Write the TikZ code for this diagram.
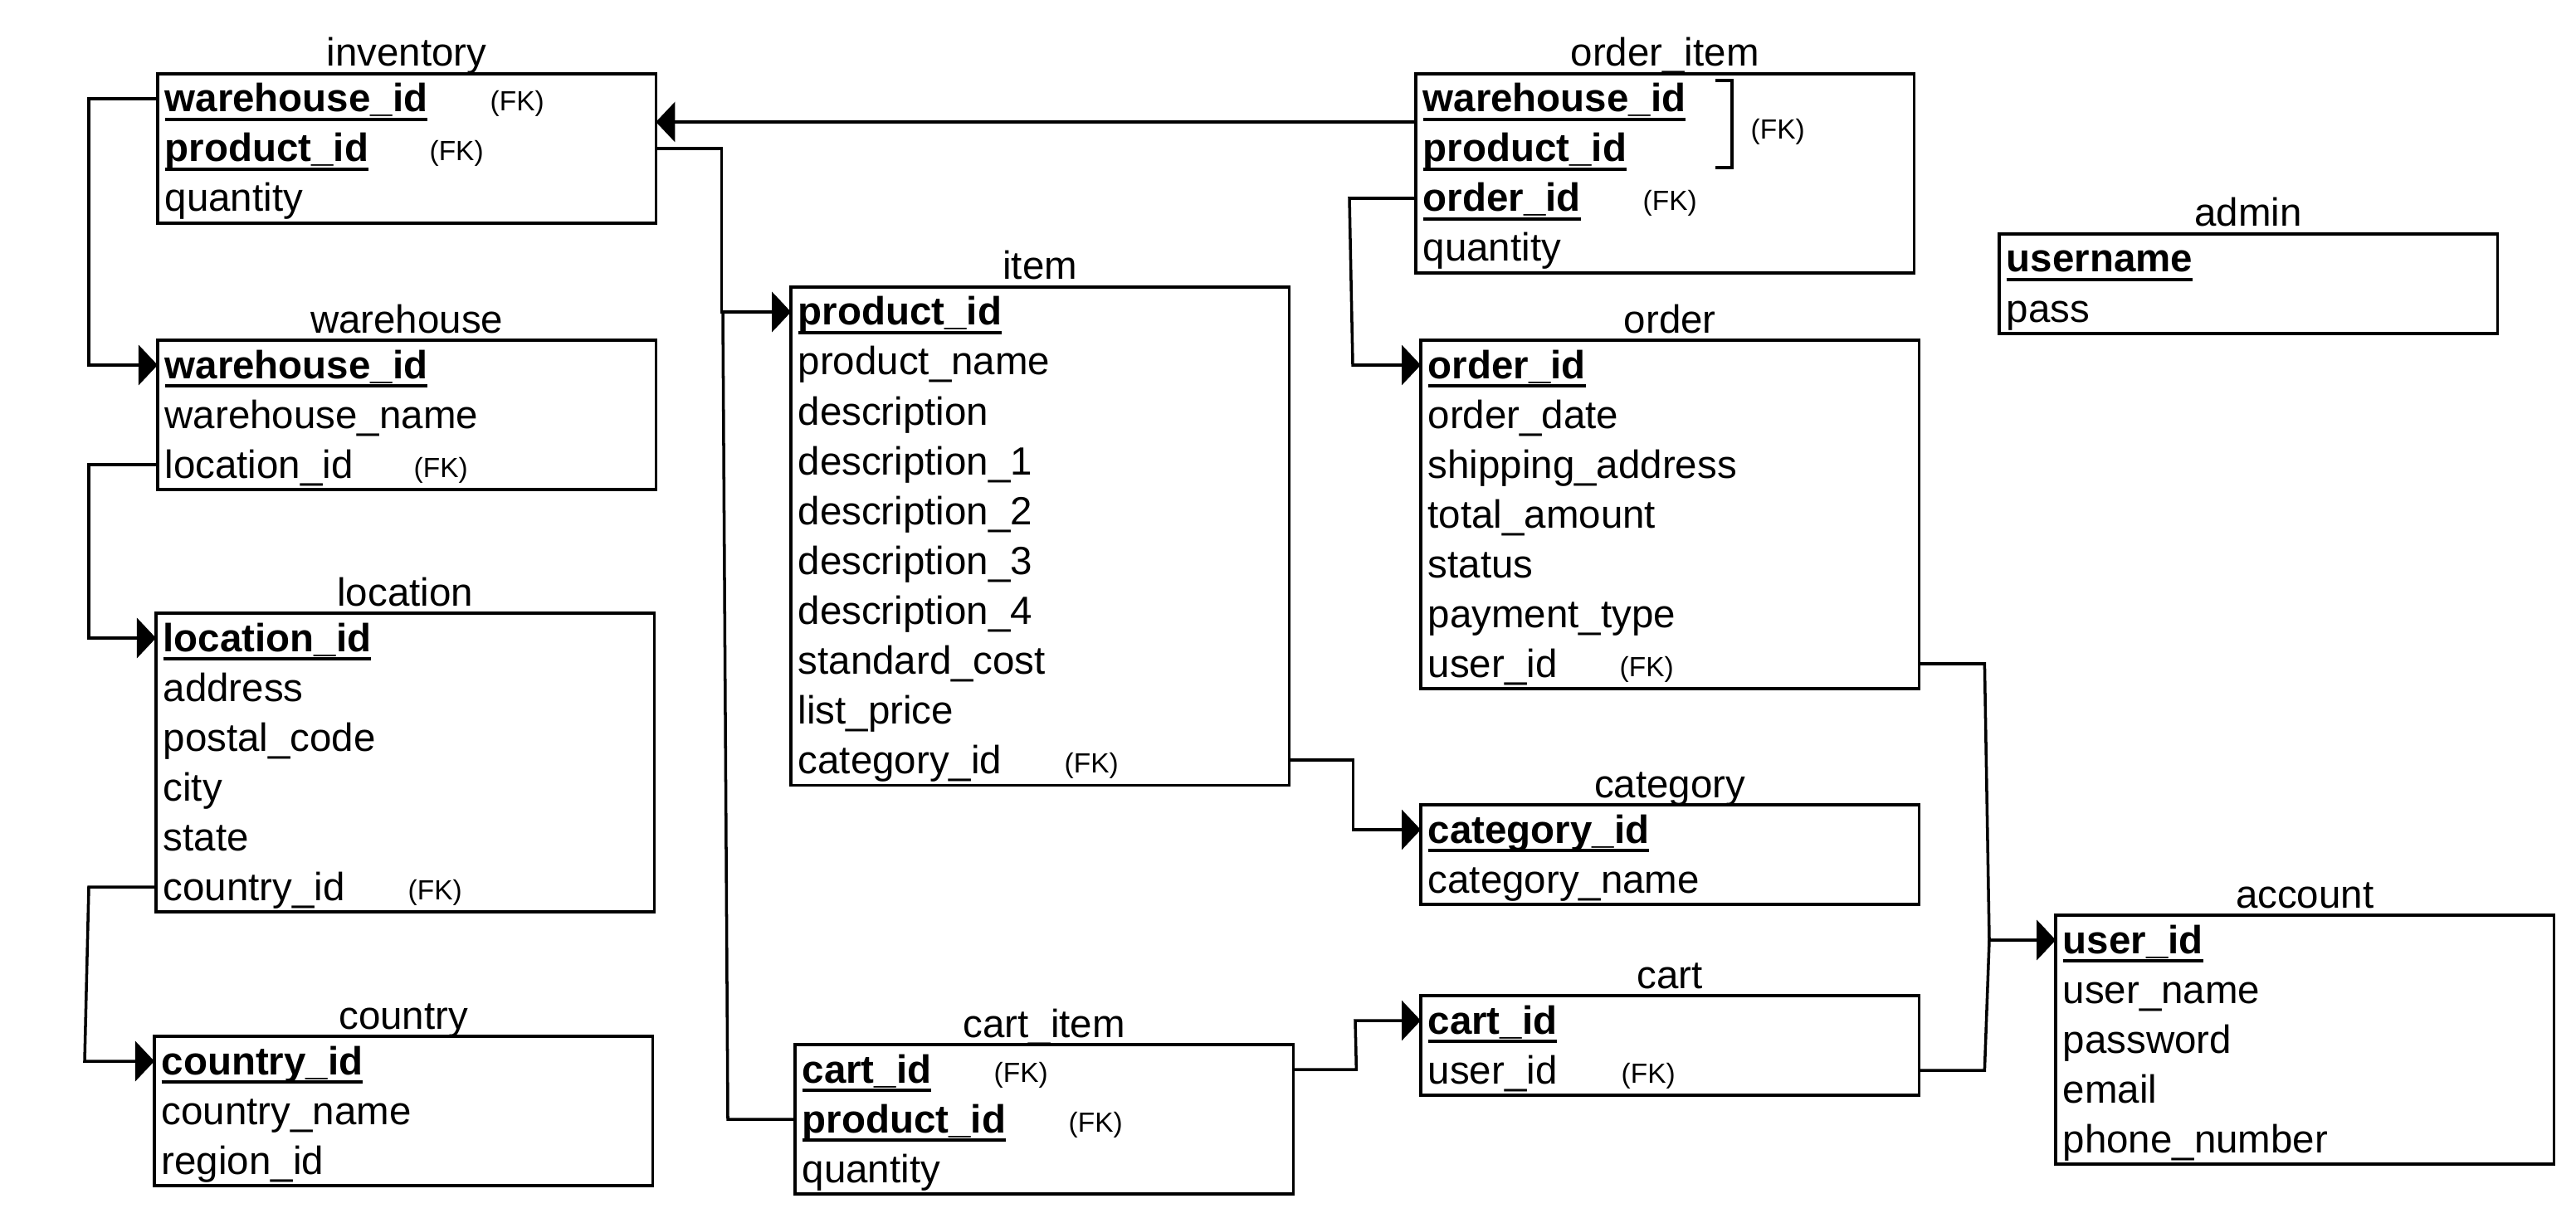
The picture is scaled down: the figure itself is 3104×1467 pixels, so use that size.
\documentclass[tikz,border=0pt]{standalone}
\usepackage{fontspec}
\setmainfont{Liberation Sans}
\usetikzlibrary{arrows.meta,calc}
\newsavebox\ulbox
\newcommand\pkul[1]{\sbox\ulbox{\bfseries #1}\rlap{\rule[-3pt]{\wd\ulbox}{0.9pt}}\usebox\ulbox}
\begin{document}
\begin{tikzpicture}[x=0.01cm,y=-0.01cm,
  tblbox/.style={draw, line width=1pt, minimum width=6cm, inner sep=0pt, outer sep=0pt},
  tbltitle/.style={anchor=base, inner sep=0pt, font=\fontsize{13.5}{16}\selectfont},
  fldtext/.style={anchor=base west, inner sep=0pt, font=\fontsize{13.5}{16}\selectfont},
  fklabel/.style={anchor=base west, inner sep=0pt, font=\fontsize{9.5}{11}\selectfont},
  conn/.style={line width=1pt},
  arr/.style={-{Triangle[length=0.23cm,width=0.48cm]}}]
\newcommand\tbl[5]{%
  \node[tblbox, minimum height=#4*0.6cm, anchor=north west] (#1) at (#2,#3) {};
  \node[tbltitle] (#1-title) at ($(#1.north)+(0,-9)$) {#5};}
\newcommand\fld[3]{%
  \node[fldtext] (#1-#2) at ($(#1.north west)+(8,{60*#2-14})$) {#3};
  \coordinate (#1-#2-l) at ($(#1.north west)+(0,{60*#2-30})$);
  \coordinate (#1-#2-r) at ($(#1.north east)+(0,{60*#2-30})$);}
\newcommand\fkat[3]{%
  \node[fklabel] (#1-#2-fk) at ($(#1.north west)+(#3,{60*#2-15})$) {(FK)};}
\fill[white] (0,0) rectangle (3104,1467);
\useasboundingbox (0,0) rectangle (3104,1467);

% inventory
\tbl{inv}{190}{89}{3}{inventory}
\fld{inv}{1}{\pkul{warehouse\_id}}
\fld{inv}{2}{\pkul{product\_id}}
\fld{inv}{3}{quantity}
\fkat{inv}{1}{400}
\fkat{inv}{2}{327}

% warehouse
\tbl{wh}{190}{410}{3}{warehouse}
\fld{wh}{1}{\pkul{warehouse\_id}}
\fld{wh}{2}{warehouse\_name}
\fld{wh}{3}{location\_id}
\fkat{wh}{3}{308}

% location
\tbl{loc}{188}{739}{6}{location}
\fld{loc}{1}{\pkul{location\_id}}
\fld{loc}{2}{address}
\fld{loc}{3}{postal\_code}
\fld{loc}{4}{city}
\fld{loc}{5}{state}
\fld{loc}{6}{country\_id}
\fkat{loc}{6}{303}

% country
\tbl{cty}{186}{1249}{3}{country}
\fld{cty}{1}{\pkul{country\_id}}
\fld{cty}{2}{country\_name}
\fld{cty}{3}{region\_id}

% item
\tbl{item}{953}{346}{10}{item}
\fld{item}{1}{\pkul{product\_id}}
\fld{item}{2}{product\_name}
\fld{item}{3}{description}
\fld{item}{4}{description\_1}
\fld{item}{5}{description\_2}
\fld{item}{6}{description\_3}
\fld{item}{7}{description\_4}
\fld{item}{8}{standard\_cost}
\fld{item}{9}{list\_price}
\fld{item}{10}{category\_id}
\fkat{item}{10}{329}

% cart_item
\tbl{ci}{958}{1259}{3}{cart\_item}
\fld{ci}{1}{\pkul{cart\_id}}
\fld{ci}{2}{\pkul{product\_id}}
\fld{ci}{3}{quantity}
\fkat{ci}{1}{239}
\fkat{ci}{2}{329}

% order_item
\tbl{oi}{1706}{89}{4}{order\_item}
\fld{oi}{1}{\pkul{warehouse\_id}}
\fld{oi}{2}{\pkul{product\_id}}
\fld{oi}{3}{\pkul{order\_id}}
\fld{oi}{4}{quantity}
\fkat{oi}{3}{273}
\draw[conn] ($(oi.north west)+(361,8)$) -- ++(20,0) -- ++(0,105) -- ++(-20,0);
\node[fklabel] (oi-cfk) at ($(oi.north west)+(403,79)$) {(FK)};

% admin
\tbl{adm}{2409}{282}{2}{admin}
\fld{adm}{1}{\pkul{username}}
\fld{adm}{2}{pass}

% order
\tbl{ord}{1712}{410}{7}{order}
\fld{ord}{1}{\pkul{order\_id}}
\fld{ord}{2}{order\_date}
\fld{ord}{3}{shipping\_address}
\fld{ord}{4}{total\_amount}
\fld{ord}{5}{status}
\fld{ord}{6}{payment\_type}
\fld{ord}{7}{user\_id}
\fkat{ord}{7}{239}

% category
\tbl{cat}{1712}{970}{2}{category}
\fld{cat}{1}{\pkul{category\_id}}
\fld{cat}{2}{category\_name}

% cart
\tbl{cart}{1712}{1200}{2}{cart}
\fld{cart}{1}{\pkul{cart\_id}}
\fld{cart}{2}{user\_id}
\fkat{cart}{2}{241}

% account
\tbl{acc}{2477}{1103}{5}{account}
\fld{acc}{1}{\pkul{user\_id}}
\fld{acc}{2}{user\_name}
\fld{acc}{3}{password}
\fld{acc}{4}{email}
\fld{acc}{5}{phone\_number}

% connectors
\coordinate (oi-fkpt) at ($(oi.north west)+(0,58)$);
\coordinate (inv-fkpt) at ($(inv.north east)+(0,58)$);
\draw[conn,arr] (oi-fkpt) -- (inv-fkpt);
\draw[conn,arr] (inv-1-l) -- ++(-83,0) |- (wh-1-l);
\draw[conn,arr] (inv-2-r) -- ++(79,0) |- (item-1-l);
\draw[conn,arr] (ci-2-l) -- ++(-81,0) -- ($(item-1-l)+(-82,0)$) -- (item-1-l);
\draw[conn,arr] (wh-3-l) -- ++(-83,0) |- (loc-1-l);
\draw[conn,arr] (loc-6-l) -- ++(-81,0) -- ($(cty-1-l)+(-84,0)$) -- (cty-1-l);
\draw[conn,arr] (item-10-r) -- ++(77,0) |- (cat-1-l);
\draw[conn,arr] (oi-3-l) -- ++(-80,0) -- ($(ord-1-l)+(-82,0)$) -- (ord-1-l);
\draw[conn,arr] (ci-1-r) -- ++(76,0) -- ($(cart-1-l)+(-79,0)$) -- (cart-1-l);
\draw[conn,arr] (ord-7-r) -- ++(79,0) -- ($(acc-1-l)+(-80,0)$) -- (acc-1-l);
\draw[conn,arr] (cart-2-r) -- ++(79,0) -- ($(acc-1-l)+(-80,0)$) -- (acc-1-l);
\end{tikzpicture}
\end{document}
